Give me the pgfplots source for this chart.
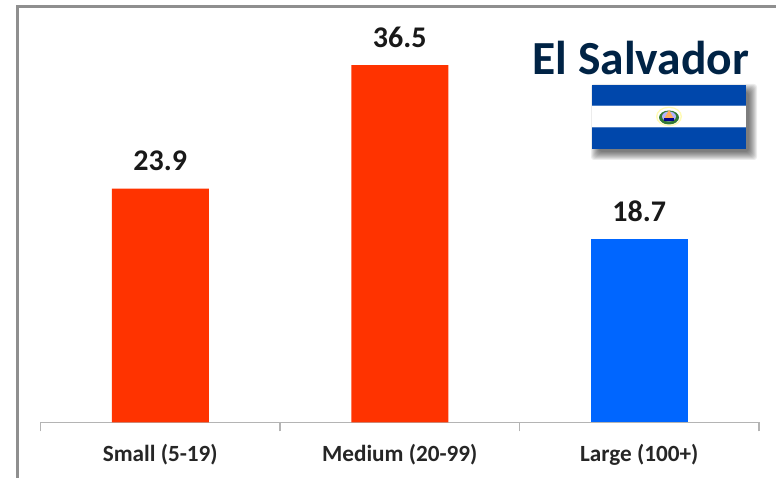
\documentclass[border=0pt]{standalone}
\usepackage{fontspec}
\setmainfont{Carlito}
\usepackage{pgfplots}
\pgfplotsset{compat=1.18}
\definecolor{barred}{HTML}{FF3300}
\definecolor{barblue}{HTML}{0066FF}
\definecolor{titlenavy}{HTML}{002345}
\definecolor{flagblue}{HTML}{0047AB}
\definecolor{framegray}{HTML}{8F8F8F}
\definecolor{axisgray}{HTML}{B4B4B4}
\begin{document}
\begin{tikzpicture}[x=1pt,y=1pt]
% page extent and outer frame (origin at the lower left, y measured upward)
\path[use as bounding box] (0,0) rectangle (776,478);
\fill[white] (0,0) rectangle (776,478);
\draw[framegray,line width=2.2pt] (17.5,0) -- (17.5,471.5) -- (776,471.5);
\begin{axis}[
  at={(40.5pt,55.5pt)}, anchor=south west,
  scale only axis, width=718.5pt, height=420pt,
  xmin=-0.5, xmax=2.5, ymin=0, ymax=42.9,
  axis x line=bottom, axis y line=none,
  axis line style={-,axisgray,line width=1.1pt},
  xtick={0,1,2},
  xticklabels={Small (5-19),Medium (20-99),Large (100+)},
  major tick length=0pt,
  minor xtick={-0.5,0.5,1.5,2.5},
  minor tick length=9pt,
  tick align=outside,
  minor tick style={axisgray,line width=1.1pt},
  tick label style={font=\fontsize{23.2}{25}\selectfont\bfseries,text=black!85,yshift=-18.5pt},
  ybar, bar width=97pt,
  nodes near coords,
  every node near coord/.append style={font=\fontsize{30}{32}\selectfont\bfseries,text=black!90,yshift=14pt},
  /pgf/number format/fixed, /pgf/number format/precision=1,
  /pgf/number format/fixed zerofill,
  /pgf/number format/assume math mode=true,
  clip=false,
]
\addplot[bar shift=0pt,fill=barred,draw=none] coordinates {(0,23.9) (1,36.5)};
\addplot[bar shift=0pt,fill=barblue,draw=none] coordinates {(2,18.7)};
\end{axis}
% country heading
\node[anchor=base east,font=\fontsize{47.5}{50}\selectfont\bfseries,text=titlenavy,inner sep=0pt] at (749,403) {El Salvador};
% flag with a soft drop shadow built from widening translucent layers
\foreach \o in {6,5,4,3,2,1,0,-1,-2}{
  \fill[black,opacity=0.075,rounded corners=3pt] (597-\o,324-\o) rectangle (751+\o,388+\o);
}
\fill[flagblue] (592,329) rectangle (746,393);
\fill[white] (592,351) rectangle (746,372.5);
\draw[flagblue!70,line width=0.6pt] (592,351) -- (746,351) (592,372.5) -- (746,372.5);
% coat of arms: pale ring, wreath, triangle and base
\fill[yellow!30] (669,361.5) ellipse (13pt and 9.8pt);
\fill[white] (669,361.5) ellipse (11.5pt and 8.5pt);
\fill[green!35!black!80] (669,360.5) ellipse (10pt and 7pt);
\fill[blue!30!white] (669,361.5) ellipse (7pt and 5pt);
\fill[orange!65] (664,359) -- (674,359) -- (669,368) -- cycle;
\fill[blue!55!black] (664,356.5) rectangle (674,359.5);
\end{tikzpicture}
\end{document}
